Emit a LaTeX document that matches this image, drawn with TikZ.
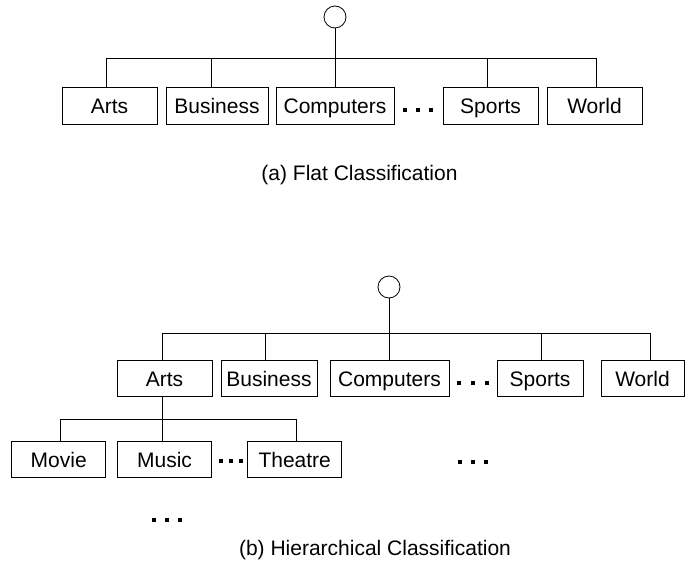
\documentclass[tikz,border=0pt]{standalone}
\usepackage{fontspec}
\setmainfont{Liberation Sans}
\begin{document}
\begin{tikzpicture}[x=1pt,y=-1pt,
  lbl/.style={font=\fontsize{21}{25}\selectfont},
  box/.style={draw, line width=0.8pt, minimum height=36.5pt, inner sep=0pt, text height=15pt, text depth=0pt, lbl},
  root/.style={draw, circle, line width=0.8pt, minimum size=22pt, inner sep=0pt},
  link/.style={line width=0.8pt},
  sq/.style={fill=black, draw=none, inner sep=0pt, minimum size=4.6pt}]
\useasboundingbox (0,0) rectangle (688,568);

% ---------- (a) flat ----------
\node[root] (r1) at (335,17) {};
\node[box, minimum width=95pt]  (a1) at (109.5,106) {Arts};
\node[box, minimum width=102pt] (b1) at (217,106)   {Business};
\node[box, minimum width=118pt] (c1) at (335,106)   {Computers};
\node[box, minimum width=95pt]  (s1) at (490.5,106) {Sports};
\node[box, minimum width=95pt]  (w1) at (594.5,106) {World};
\node[sq] (d1a) at (405,110) {};
\node[sq] (d1b) at (418,110) {};
\node[sq] (d1c) at (431,110) {};

\coordinate (ta) at (106.7,58);
\coordinate (tb) at (211.7,58);
\coordinate (tc) at (335,58);
\coordinate (ts) at (487,58);
\coordinate (tw) at (596,58);
\draw[link] (ta) -- (tw);
\draw[link] (r1.south) -- (c1.north);
\draw[link] (ta) -- (ta |- a1.north);
\draw[link] (tb) -- (tb |- b1.north);
\draw[link] (ts) -- (ts |- s1.north);
\draw[link] (tw) -- (tw |- w1.north);

\node[lbl, anchor=base] (capa) at (359.5,180) {(a) Flat Classification};

% ---------- (b) hierarchical ----------
\node[root] (r2) at (389,287) {};
\node[box, minimum width=95pt]  (a2) at (164.5,378.5) {Arts};
\node[box, minimum width=96pt]  (b2) at (269,378.5)   {Business};
\node[box, minimum width=119pt] (c2) at (389.5,378.5) {Computers};
\node[box, minimum width=86pt]  (s2) at (540,378.5)   {Sports};
\node[box, minimum width=83pt]  (w2) at (642.5,378.5) {World};
\node[sq] (d2a) at (459,383) {};
\node[sq] (d2b) at (473,383) {};
\node[sq] (d2c) at (487,383) {};

\coordinate (ua) at (162,333);
\coordinate (ub) at (265.7,333);
\coordinate (uc) at (389,333);
\coordinate (us) at (541.3,333);
\coordinate (uw) at (650.5,333);
\draw[link] (ua) -- (uw);
\draw[link] (r2.south) -- (r2.south |- c2.north);
\draw[link] (ua) -- (ua |- a2.north);
\draw[link] (ub) -- (ub |- b2.north);
\draw[link] (us) -- (us |- s2.north);
\draw[link] (uw) -- (uw |- w2.north);

% subtree of Arts
\node[box, minimum width=94pt] (mo) at (58.7,459.5)  {Movie};
\node[box, minimum width=94pt] (mu) at (164.5,459.5) {Music};
\node[box, minimum width=94pt] (th) at (294.7,459.5) {Theatre};
\node[sq, minimum size=4pt] (d3a) at (221,461) {};
\node[sq, minimum size=4pt] (d3b) at (231,461) {};
\node[sq, minimum size=4pt] (d3c) at (241,461) {};

\coordinate (vm) at (60.3,419);
\coordinate (vt) at (296,419);
\draw[link] (vm) -- (vt);
\draw[link] (vm) -- (vm |- mo.north);
\draw[link] (vt) -- (vt |- th.north);
\draw[link] (ua |- a2.south) -- (ua |- mu.north);

\node[sq] (d4a) at (460,462) {};
\node[sq] (d4b) at (473,462) {};
\node[sq] (d4c) at (486,462) {};

\node[sq] (d5a) at (154,520) {};
\node[sq] (d5b) at (167,520) {};
\node[sq] (d5c) at (180,520) {};

\node[lbl, anchor=base] (capb) at (375,555) {(b) Hierarchical Classification};
\end{tikzpicture}
\end{document}
